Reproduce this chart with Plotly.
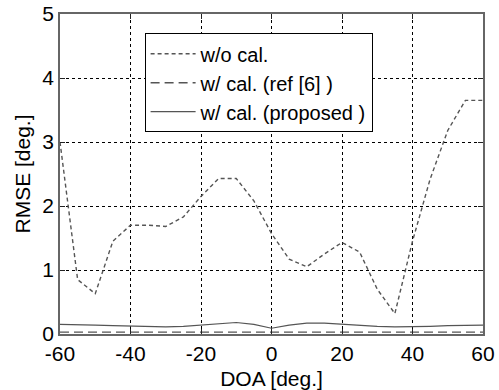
import plotly.graph_objects as go

doa = [-60, -55, -50, -45, -40, -35, -30, -25, -20, -15, -10, -5, 0,
       5, 10, 15, 20, 25, 30, 35, 40, 45, 50, 55, 60]
rmse_wo = [3.0, 0.85, 0.63, 1.45, 1.70, 1.70, 1.68, 1.83, 2.15, 2.43, 2.43, 2.08, 1.57,
           1.17, 1.05, 1.25, 1.43, 1.28, 0.70, 0.32, 1.45, 2.42, 3.18, 3.65, 3.65]
rmse_ref6 = [0.03] * 25
rmse_prop = [0.15, 0.15, 0.14, 0.13, 0.12, 0.11, 0.11, 0.12, 0.14, 0.17, 0.18, 0.15, 0.09,
             0.14, 0.17, 0.17, 0.15, 0.13, 0.12, 0.11, 0.11, 0.12, 0.13, 0.14, 0.14]

names = ["w/o cal.", "w/ cal. (ref [6] )", "w/ cal. (proposed )"]
xticks = [-60, -40, -20, 0, 20, 40, 60]
yticks = [0, 1, 2, 3, 4, 5]

fig = go.Figure()
fig.add_trace(go.Scatter(x=doa, y=rmse_wo, mode="lines", name=names[0],
                         line=dict(color="#555555", width=1.4, dash="4px,3px")))
fig.add_trace(go.Scatter(x=doa, y=rmse_ref6, mode="lines", name=names[1],
                         line=dict(color="#555555", width=1.4, dash="9px,5px")))
fig.add_trace(go.Scatter(x=doa, y=rmse_prop, mode="lines", name=names[2],
                         line=dict(color="#555555", width=1.2)))

font = dict(family="Liberation Sans, Arial, sans-serif", color="black")
axis_common = dict(showline=True, linecolor="#666666", linewidth=1.5, mirror="ticks",
                   ticks="inside", ticklen=5, tickcolor="#222222",
                   showgrid=True, gridcolor="black", griddash="dot", gridwidth=1,
                   zeroline=False, tickfont=dict(size=21, **font))
fig.update_xaxes(range=[-60, 60], tickvals=xticks, ticktext=[str(v) for v in xticks],
                 title=dict(text="DOA [deg.]", font=dict(size=21, **font)),
                 automargin=False, **axis_common)
fig.update_yaxes(range=[0, 5], tickvals=yticks, ticktext=[str(v) for v in yticks],
                 title=dict(text="RMSE [deg.]", font=dict(size=21, **font), standoff=6),
                 automargin="left", **axis_common)
fig.update_layout(
    width=499, height=390,
    margin=dict(l=60, r=16, t=14, b=56),
    paper_bgcolor="white", plot_bgcolor="white",
    font=font,
    showlegend=True,
    legend=dict(x=0.2, y=0.94, xanchor="left", yanchor="top",
                bgcolor="white", bordercolor="black", borderwidth=1,
                font=dict(size=20, **font), itemwidth=45, tracegroupgap=0),
)
fig.write_html("out.html", config={"displayModeBar": False},
               post_script="document.body.style.margin='0px';document.body.style.overflow='hidden';")
